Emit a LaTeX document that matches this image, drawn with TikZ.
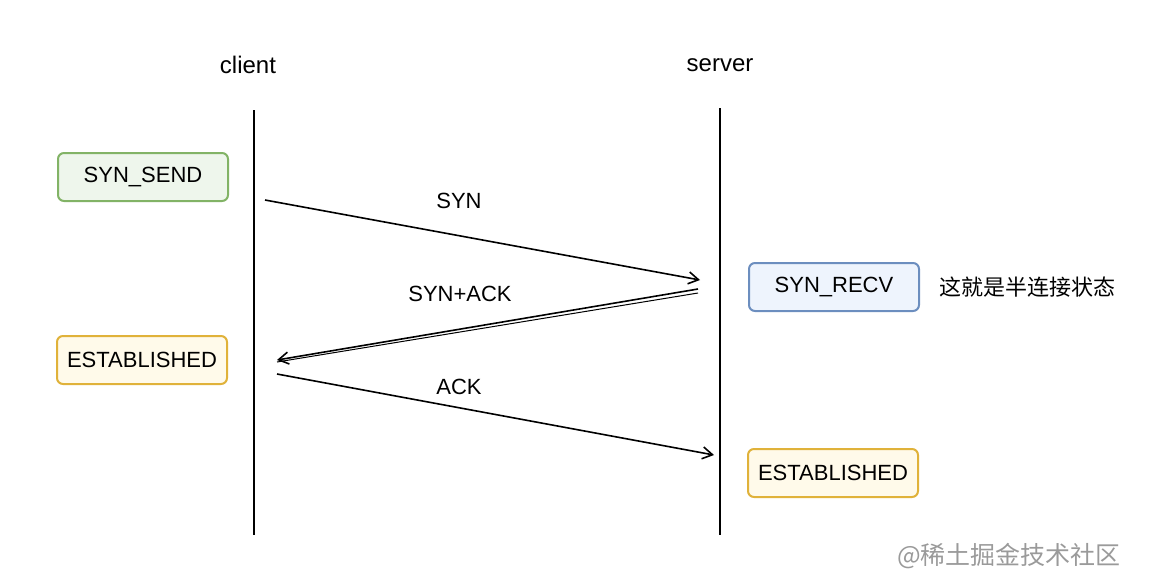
\documentclass[tikz,border=0pt]{standalone}
\usepackage{fontspec}
\setmainfont{Liberation Sans}
\newfontfamily\cjk{Noto Sans CJK SC}
\usetikzlibrary{arrows.meta}
\definecolor{sendline}{HTML}{82B366}
\definecolor{sendfill}{HTML}{EEF6EC}
\definecolor{recvline}{HTML}{6C8EBF}
\definecolor{recvfill}{HTML}{EEF4FD}
\definecolor{estline}{HTML}{E0B23A}
\definecolor{estfill}{HTML}{FFFAEA}
\definecolor{markgray}{HTML}{9A9A9A}

\begin{document}
\begin{tikzpicture}[x=0.5pt,y=-0.5pt,>={Straight Barb[length=5pt,width=6pt]},
  state/.style={draw,line width=1pt,rounded corners=3pt,minimum width=85pt,
    minimum height=24pt,font=\fontsize{11}{13}\selectfont,inner sep=0pt},
  msg/.style={font=\fontsize{11}{13}\selectfont}]
  % page: 1160 x 574 px, y grows downwards
  \useasboundingbox (0,0) rectangle (1160,574);
  \def\xc{254}
  \def\xs{720}

  % lifelines
  \draw[line width=1pt] (\xc,110) -- (\xc,535);
  \draw[line width=1pt] (\xs,108) -- (\xs,535);
  \node[font=\fontsize{12}{14}\selectfont] (client) at (248,65) {client};
  \node[font=\fontsize{12}{14}\selectfont] (server) at (720,65) {server};

  % states
  \node[state,draw=sendline,fill=sendfill] (synsend) at (143,177) {SYN\_SEND};
  \node[state,draw=estline,fill=estfill]   (estc)    at (142,360) {ESTABLISHED};
  \node[state,draw=recvline,fill=recvfill] (synrecv) at (834,287) {SYN\_RECV};
  \node[state,draw=estline,fill=estfill]   (ests)    at (833,473) {ESTABLISHED};
  \node[font=\cjk\fontsize{11}{13}\selectfont,anchor=west] (half)
    at (932,287) {这就是半连接状态};

  % message ends
  \coordinate (synA) at (265,200);
  \coordinate (synB) at (700,280);
  \coordinate (ackA) at (698,289);
  \coordinate (ackB) at (277,360);
  \coordinate (finA) at (277,374);
  \coordinate (finB) at (714,455);

  % messages
  \draw[->,line width=0.8pt] (synA) -- (synB);
  \draw[->,line width=0.8pt] (ackA) -- (ackB);
  \draw[line width=0.5pt] ([yshift=-2pt]ackA) -- ([yshift=-1pt]ackB);
  \draw[->,line width=0.8pt] (finA) -- (finB);
  \node[msg] (syn)    at (459,201) {SYN};
  \node[msg] (synack) at (460,294) {SYN+ACK};
  \node[msg] (ack)    at (459,387) {ACK};

  % watermark
  \node[font=\cjk\fontsize{12.5}{15}\selectfont,text=markgray,anchor=east] (mark)
    at (1128,556) {@稀土掘金技术社区};
\end{tikzpicture}
\end{document}
